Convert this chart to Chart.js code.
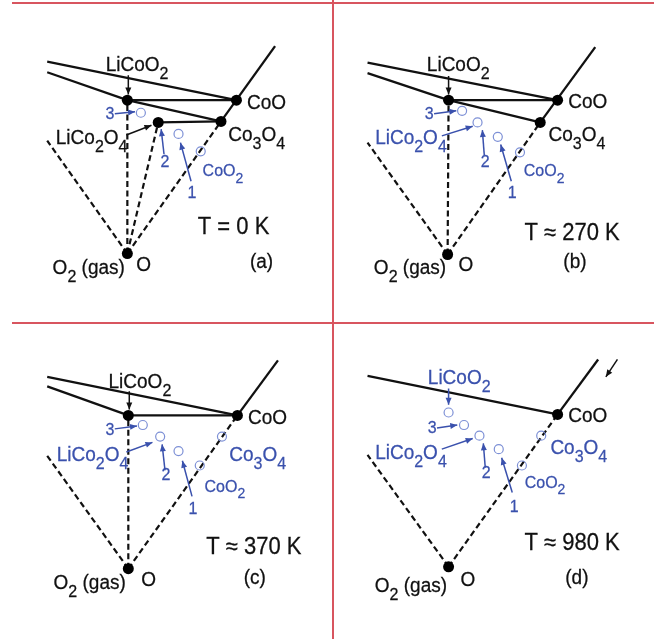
<!DOCTYPE html>
<html>
<head>
<meta charset="utf-8">
<script src="https://cdn.jsdelivr.net/npm/chart.js@4.4.1/dist/chart.umd.min.js"></script>
<style>
  html, body { margin: 0; padding: 0; background: #fff; }
  #fig { position: relative; width: 654px; height: 639px; overflow: hidden; }
  .panel { position: absolute; }
  .rule { position: absolute; background: #d8555f; }
</style>
</head>
<body>
<div id="fig">
  <div class="panel" style="left:0;top:0"><canvas id="pa" width="330" height="320"></canvas></div>
  <div class="panel" style="left:330px;top:0"><canvas id="pb" width="324" height="320"></canvas></div>
  <div class="panel" style="left:0;top:320px"><canvas id="pc" width="330" height="319"></canvas></div>
  <div class="panel" style="left:330px;top:320px"><canvas id="pd" width="324" height="319"></canvas></div>
  <div class="rule" style="left:12px;top:2px;width:642px;height:2px"></div>
  <div class="rule" style="left:12px;top:322px;width:642px;height:2px"></div>
  <div class="rule" style="left:332px;top:0;width:2px;height:639px"></div>
</div>
<script>
// panel (a) T = 0 K
const solidA = [[[43,58],[239,98]], [[43,69],[126,98]], [[126,98],[239,98]], [[126,98],[223,120]], [[158,121],[223,120]], [[279,42],[223,120]]];
const dashedA = [[[126,257],[43,140]], [[126,257],[126,98]], [[126,257],[158,121]], [[126,257],[223,120]]];
const stableA = [[126,257], [126,98], [239,98], [223,120], [158,121]];
const openA = [[140,111], [179,133], [202,151]];
const arrowsKA = [[[127,72],[127,92]], [[125,134],[151,124]]];
const arrowsBA = [[[113,112],[134,110]], [[164,154],[161,128]], [[192,182],[181,142]]];
const labelsA = [
  ['LiCoO_2',136,68,'k'], ['3',108,118,'n'], ['LiCo_2O_4',89,143,'k'], ['2',165,167,'n'],
  ['1',193,199,'n'], ['CoO_2',225,177,'s'], ['CoO',250,107,'k','left'], ['Co_3O_4',260,140,'k'],
  ['T = 0 K',236,237,'t'], ['(a)',265,272,'p'], ['O_2 (gas)',86,278,'k'], ['O',143,275,'k']
];

// panel (b) T ~ 270 K
const solidB = [[[33,59],[230,98]], [[33,70],[117,98]], [[117,98],[230,98]], [[117,98],[212,121]], [[269,43],[212,121]]];
const dashedB = [[[116,258],[33,142]], [[116,258],[117,98]], [[116,258],[212,121]]];
const stableB = [[116,258], [117,98], [230,98], [212,121]];
const openB = [[131,109], [147,121], [168,136], [191,152]];
const arrowsKB = [[[117,73],[117,92]]];
const arrowsBB = [[[102,112],[125,109]], [[110,135],[142,125]], [[154,155],[152,129]], [[182,182],[171,144]]];
const labelsB = [
  ['LiCoO_2',127,68,'k'], ['3',97,118,'n'], ['LiCo_2O_4',78,143,'b'], ['2',155,167,'n'],
  ['1',183,199,'n'], ['CoO_2',216,177,'s'], ['CoO',241,106,'k','left'], ['Co_3O_4',250,140,'k'],
  ['T \u2248 270 K',245,243,'t'], ['(b)',248,272,'p'], ['O_2 (gas)',77,278,'k'], ['O',135,275,'k']
];

// panel (c) T ~ 370 K
const solidC = [[[43,53],[240,93]], [[43,63],[127,93]], [[127,93],[240,93]], [[282,36],[240,93]]];
const dashedC = [[[127,252],[43,135]], [[127,252],[127,93]], [[127,252],[240,93]]];
const stableC = [[127,252], [127,93], [240,93]];
const openC = [[142,103], [160,115], [179,130], [201,145], [224,115]];
const arrowsKC = [[[128,68],[128,87]]];
const arrowsBC = [[[113,107],[136,104]], [[125,131],[152,121]], [[165,150],[162,123]], [[193,177],[183,140]]];
const labelsC = [
  ['LiCoO_2',139,65,'k'], ['3',108,113,'n'], ['LiCo_2O_4',90,140,'b'], ['2',166,160,'n'],
  ['1',194,195,'n'], ['CoO_2',227,172,'s'], ['Co_3O_4',261,140,'b'], ['CoO',251,102,'k','left'],
  ['T \u2248 370 K',257,237,'t'], ['(c)',258,268,'p'], ['O_2 (gas)',87,273,'k'], ['O',148,270,'k']
];

// panel (d) T ~ 980 K
const solidD = [[[33,52],[230,92]], [[272,35],[230,92]]];
const dashedD = [[[117,250],[33,134]], [[117,250],[230,92]]];
const stableD = [[117,250], [230,92]];
const openD = [[117,90], [133,103], [149,114], [169,128], [193,145], [213,114]];
const arrowsKD = [[[292,35],[280,53]]];
const arrowsBD = [[[117,65],[117,82]], [[105,106],[126,103]], [[110,128],[142,117]], [[155,147],[153,122]], [[183,173],[172,137]]];
const labelsD = [
  ['LiCoO_2',128,60,'b'], ['3',100,111,'n'], ['LiCo_2O_4',78,138,'b'], ['2',156,158,'n'],
  ['1',185,193,'n'], ['CoO_2',217,168,'s'], ['Co_3O_4',252,133,'b'], ['CoO',241,100,'k','left'],
  ['T \u2248 980 K',245,233,'t'], ['(d)',250,268,'p'], ['O_2 (gas)',78,276,'k'], ['O',137,270,'k']
];

const FONT = '"Liberation Sans", Arial, sans-serif';
const BLUE = '#3a51ad';
const styles = {
  k: { size: 19, color: '#111' },
  b: { size: 19, color: BLUE },
  n: { size: 16, color: BLUE },
  s: { size: 16, color: BLUE },
  t: { size: 22, color: '#111' },
  p: { size: 19, color: '#111' }
};

function drawRich(ctx, text, x, y, st, align) {
  const parts = [];
  for (let i = 0; i < text.length; i++) {
    const c = text[i];
    if (c === '_') { parts.push({ t: text[++i], sub: true }); }
    else if (parts.length && !parts[parts.length - 1].sub) parts[parts.length - 1].t += c;
    else parts.push({ t: c, sub: false });
  }
  const fMain = st.size + 'px ' + FONT;
  const fSub = Math.round(st.size * 0.85) + 'px ' + FONT;
  let total = 0;
  parts.forEach(p => { ctx.font = p.sub ? fSub : fMain; p.w = ctx.measureText(p.t).width; total += p.w; });
  let cx = align === 'left' ? 0 : -total / 2;
  ctx.save();
  ctx.translate(x, y);
  ctx.scale(1, 1.05);
  ctx.fillStyle = st.color;
  ctx.strokeStyle = st.color;
  ctx.lineWidth = 0.25;
  ctx.textAlign = 'left';
  ctx.textBaseline = 'alphabetic';
  parts.forEach(p => {
    ctx.font = p.sub ? fSub : fMain;
    const dy = p.sub ? st.size * 0.4 : 0;
    ctx.fillText(p.t, cx, dy);
    ctx.strokeText(p.t, cx, dy);
    cx += p.w;
  });
  ctx.restore();
}

function makeAnnot(labels) {
  return {
    id: 'annot',
    afterDatasetsDraw(chart) {
      const ctx = chart.ctx;
      chart.data.datasets.forEach((ds, i) => {
        if (!ds.arrow) return;
        const pts = chart.getDatasetMeta(i).data;
        const a = pts[0], b = pts[pts.length - 1];
        const ang = Math.atan2(b.y - a.y, b.x - a.x);
        const L = 7, W = 3, c = Math.cos(ang), s = Math.sin(ang);
        ctx.save();
        ctx.fillStyle = ds.borderColor;
        ctx.beginPath();
        ctx.moveTo(b.x, b.y);
        ctx.lineTo(b.x - L * c + W * s, b.y - L * s - W * c);
        ctx.lineTo(b.x - L * c - W * s, b.y - L * s + W * c);
        ctx.closePath();
        ctx.fill();
        ctx.restore();
      });
      const xs = chart.scales.x, ys = chart.scales.y;
      labels.forEach(([text, x, y, kind, align]) => {
        drawRich(ctx, text, xs.getPixelForValue(x), ys.getPixelForValue(y), styles[kind], align);
      });
    }
  };
}

const toXY = pts => pts.map(([x, y]) => ({ x, y }));

function buildPanel(id, solid, dashed, stable, open, arrowsK, arrowsB, labels) {
  const canvas = document.getElementById(id);
  const w = canvas.width, h = canvas.height;
  const datasets = [];
  solid.forEach(s => datasets.push({ data: toXY(s), showLine: true, borderColor: '#111', borderWidth: 2.3, pointRadius: 0, order: 3, clip: false }));
  dashed.forEach(s => datasets.push({ data: toXY(s), showLine: true, borderColor: '#111', borderWidth: 2.2, borderDash: [6, 3.5], pointRadius: 0, order: 3, clip: false }));
  arrowsK.forEach(s => datasets.push({ data: toXY(s), showLine: true, borderColor: '#111', borderWidth: 1.5, pointRadius: 0, order: 2, arrow: true, clip: false }));
  arrowsB.forEach(s => datasets.push({ data: toXY(s), showLine: true, borderColor: BLUE, borderWidth: 1.5, pointRadius: 0, order: 2, arrow: true, clip: false }));
  datasets.push({ data: toXY(open), showLine: false, pointRadius: 4.5, backgroundColor: 'rgba(255,255,255,0)', borderColor: '#7d90d6', borderWidth: 1.2, order: 1, clip: false });
  datasets.push({ data: toXY(stable), showLine: false, pointRadius: 5.5, backgroundColor: '#000', borderColor: '#000', borderWidth: 0, order: 0, clip: false });

  new Chart(canvas, {
    type: 'scatter',
    data: { datasets },
    options: {
      responsive: false,
      animation: false,
      events: [],
      layout: { padding: 0 },
      plugins: { legend: { display: false }, tooltip: { enabled: false } },
      scales: {
        x: { type: 'linear', display: false, min: 0, max: w },
        y: { type: 'linear', display: false, min: 0, max: h, reverse: true }
      }
    },
    plugins: [makeAnnot(labels)]
  });
}

buildPanel('pa', solidA, dashedA, stableA, openA, arrowsKA, arrowsBA, labelsA);
buildPanel('pb', solidB, dashedB, stableB, openB, arrowsKB, arrowsBB, labelsB);
buildPanel('pc', solidC, dashedC, stableC, openC, arrowsKC, arrowsBC, labelsC);
buildPanel('pd', solidD, dashedD, stableD, openD, arrowsKD, arrowsBD, labelsD);
</script>
</body>
</html>
